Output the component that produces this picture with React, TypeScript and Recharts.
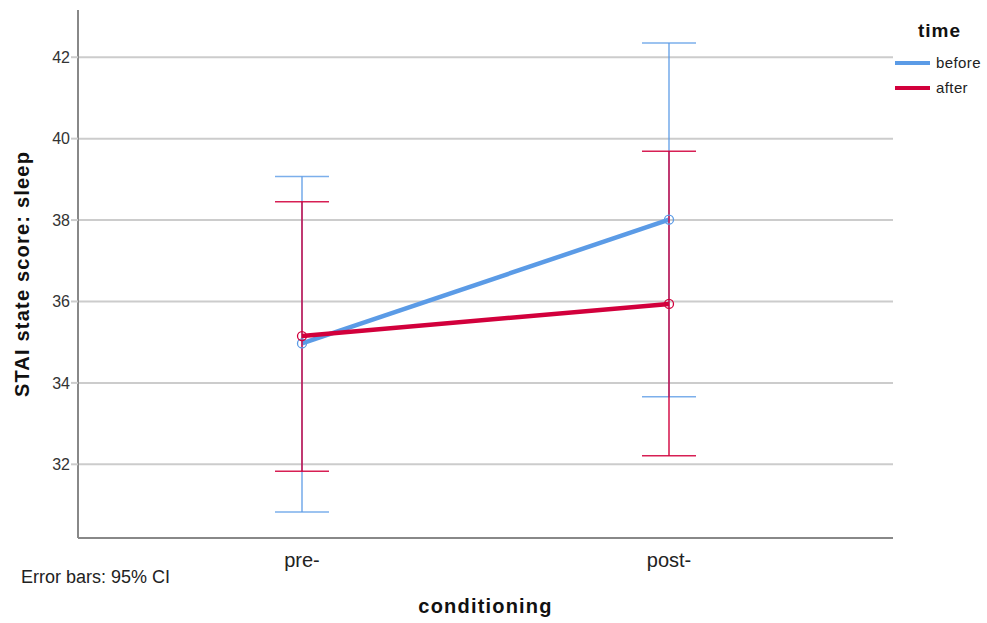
import React from 'react';
import {
  LineChart,
  Line,
  XAxis,
  YAxis,
  CartesianGrid,
  ErrorBar,
  Legend,
  Label,
} from 'recharts';

// Group means and 95% confidence limits of the STAI state score (sleep)
const conditions = ['pre-', 'post-'];
const beforeMean = [34.97, 38.01];
const beforeLow = [30.83, 33.66];
const beforeHigh = [39.07, 42.35];
const afterMean = [35.15, 35.94];
const afterLow = [31.83, 32.21];
const afterHigh = [38.45, 39.69];
const seriesOrder = ['before', 'after'];
const yTicks = [32, 34, 36, 38, 40, 42];
const yDomain: [number, number] = [30.19, 43.16];

const BLUE = '#5b9be6';
const RED = '#d2003c';
const FONT = 'Arial, "Liberation Sans", Helvetica, sans-serif';

const rows = conditions.map((condition, i) => ({
  condition,
  before: beforeMean[i],
  after: afterMean[i],
  beforeErr: [beforeMean[i] - beforeLow[i], beforeHigh[i] - beforeMean[i]],
  afterErr: [afterMean[i] - afterLow[i], afterHigh[i] - afterMean[i]],
}));

const LegendBox = (props: any) => {
  const payload = [...(props.payload || [])].sort(
    (a: any, b: any) => seriesOrder.indexOf(a.value) - seriesOrder.indexOf(b.value)
  );
  return (
    <div style={{ fontFamily: FONT, color: '#222' }}>
      <div
        style={{
          fontWeight: 'bold',
          fontSize: 19,
          lineHeight: '22px',
          marginLeft: 23,
          letterSpacing: 1,
          color: '#111',
        }}
      >
        time
      </div>
      <div style={{ marginTop: 8 }}>
        {payload.map((entry: any) => (
          <div
            key={entry.value}
            style={{ display: 'flex', alignItems: 'center', height: 25 }}
          >
            <span
              style={{
                display: 'inline-block',
                width: 35,
                height: 4,
                background: entry.color,
              }}
            />
            <span style={{ marginLeft: 6, fontSize: 15, letterSpacing: 0.4 }}>
              {entry.value}
            </span>
          </div>
        ))}
      </div>
    </div>
  );
};

export default function App() {
  return (
    <div style={{ position: 'absolute', left: 0, top: 0, fontFamily: FONT }}>
      <LineChart
        width={987}
        height={623}
        data={rows}
        margin={{ top: 10, right: 94, left: 18, bottom: 55 }}
      >
        <CartesianGrid
          horizontal
          vertical={false}
          horizontalValues={yTicks}
          stroke="#cccccc"
          strokeWidth={2}
        />
        <XAxis
          dataKey="condition"
          padding={{ left: 224, right: 224 }}
          height={30}
          axisLine={{ stroke: '#888888', strokeWidth: 2 }}
          tickLine={false}
          tickMargin={9}
          tick={{ fontSize: 20, fill: '#222', fontFamily: FONT }}
        >
          <Label
            content={(p: any) => {
              const vb = p.viewBox;
              return (
                <text
                  x={vb.x + vb.width / 2}
                  y={613}
                  textAnchor="middle"
                  fontFamily={FONT}
                  fontWeight="bold"
                  fontSize={20}
                  letterSpacing={1.2}
                  fill="#111"
                >
                  conditioning
                </text>
              );
            }}
          />
          <Label
            content={() => (
              <text
                x={21}
                y={583}
                fontFamily={FONT}
                fontSize={18}
                fill="#222"
              >
                Error bars: 95% CI
              </text>
            )}
          />
        </XAxis>
        <YAxis
          type="number"
          domain={yDomain}
          ticks={yTicks}
          allowDataOverflow
          width={60}
          axisLine={{ stroke: '#888888', strokeWidth: 2 }}
          tickLine={{ stroke: '#cccccc', strokeWidth: 2 }}
          tickSize={7}
          tickMargin={1}
          tick={{ fontSize: 16, fill: '#333', fontFamily: FONT }}
        >
          <Label
            content={(p: any) => {
              const vb = p.viewBox;
              const cy = vb.y + vb.height / 2;
              return (
                <text
                  x={22}
                  y={cy}
                  transform={`rotate(-90, 22, ${cy})`}
                  textAnchor="middle"
                  dominantBaseline="central"
                  fontFamily={FONT}
                  fontWeight="bold"
                  fontSize={20}
                  letterSpacing={1.2}
                  fill="#111"
                >
                  STAI state score: sleep
                </text>
              );
            }}
          />
        </YAxis>
        <Legend
          layout="vertical"
          align="center"
          verticalAlign="middle"
          wrapperStyle={{ left: 895, top: 20, width: 92 }}
          content={<LegendBox />}
        />
        <Line
          name="before"
          dataKey="before"
          stroke={BLUE}
          strokeWidth={4.5}
          dot={{ r: 4.5, fill: 'none', stroke: BLUE, strokeWidth: 1.3 }}
          activeDot={false}
          isAnimationActive={false}
        >
          <ErrorBar
            dataKey="beforeErr"
            width={27}
            stroke={BLUE}
            strokeWidth={1.6}
            strokeOpacity={0.8}
            direction="y"
          />
        </Line>
        <Line
          name="after"
          dataKey="after"
          stroke={RED}
          strokeWidth={4.5}
          dot={{ r: 4.5, fill: 'none', stroke: RED, strokeWidth: 1.3 }}
          activeDot={false}
          isAnimationActive={false}
        >
          <ErrorBar
            dataKey="afterErr"
            width={27}
            stroke={RED}
            strokeWidth={1.6}
            strokeOpacity={0.88}
            direction="y"
          />
        </Line>
      </LineChart>
    </div>
  );
}
